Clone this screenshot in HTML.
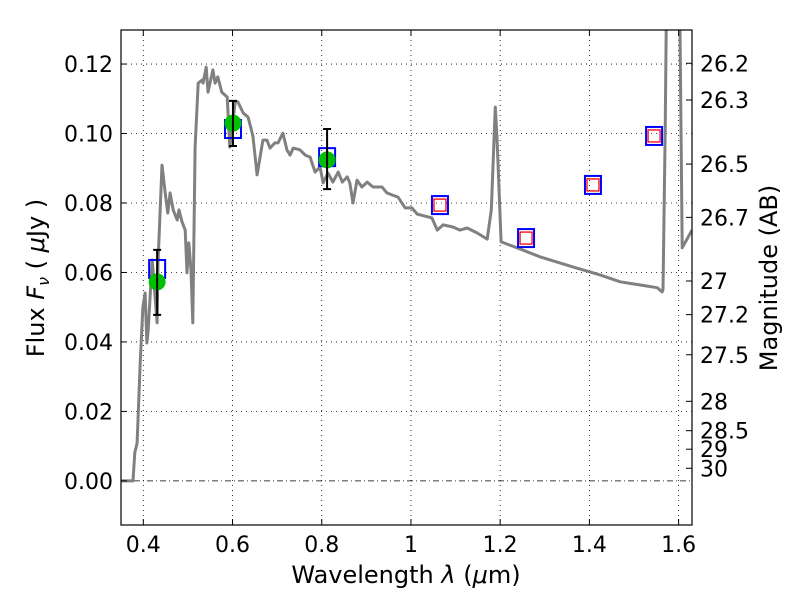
<!DOCTYPE html>
<html><head><meta charset="utf-8"><style>
html,body{margin:0;padding:0;background:#fff;}
svg text{font-family:"DejaVu Sans","Liberation Sans",sans-serif;}
</style></head><body>
<svg id="chart" width="800" height="600" xmlns="http://www.w3.org/2000/svg">
<rect width="800" height="600" fill="#fff"/>
<defs><clipPath id="clip"><rect x="121" y="30" width="571" height="495"/></clipPath></defs>
<g id="grid"></g>
<g id="plot" clip-path="url(#clip)"></g>
<rect x="121" y="30" width="571" height="495" fill="none" stroke="#000" stroke-width="1.2"/>
<g id="axes"></g>
<text x="406" y="583" font-size="24" text-anchor="middle">Wavelength  <tspan font-style="italic">λ</tspan> (<tspan font-style="italic">μ</tspan>m)</text>
<text transform="translate(44,278) rotate(-90)" font-size="24" text-anchor="middle">Flux  <tspan font-style="italic">F</tspan><tspan font-style="italic" font-size="16" dy="5">ν</tspan><tspan dy="-5">  ( </tspan><tspan font-style="italic">μ</tspan>Jy )</text>
<text transform="translate(777,278) rotate(-90)" font-size="24" text-anchor="middle">Magnitude (AB)</text>
</svg>
<script>
const specLam = [0.350,0.377,0.381,0.386,0.393,0.399,0.404,0.408,0.411,0.420,0.431,0.433,0.442,0.449,0.455,0.460,0.467,0.476,0.480,0.487,0.494,0.498,0.502,0.507,0.511,0.516,0.523,0.532,0.534,0.541,0.545,0.556,0.561,0.567,0.576,0.588,0.594,0.606,0.612,0.624,0.635,0.644,0.646,0.655,0.668,0.677,0.684,0.695,0.702,0.713,0.722,0.729,0.736,0.751,0.763,0.774,0.785,0.796,0.803,0.814,0.825,0.837,0.846,0.857,0.863,0.870,0.879,0.890,0.902,0.915,0.935,0.946,0.958,0.971,0.987,1.002,1.014,1.047,1.059,1.072,1.094,1.110,1.126,1.148,1.171,1.180,1.189,1.193,1.202,1.238,1.289,1.363,1.424,1.469,1.514,1.552,1.563,1.565,1.570,1.574,1.599,1.603,1.608,1.630];
const specFlux = [0.000,0.000,0.0081,0.0109,0.0340,0.0501,0.0541,0.0397,0.0435,0.0636,0.0455,0.0627,0.0909,0.0829,0.0771,0.0829,0.0780,0.0751,0.0780,0.0745,0.0722,0.0599,0.0685,0.0607,0.0455,0.0961,0.1145,0.1154,0.1145,0.1191,0.1119,0.1183,0.1145,0.1163,0.1119,0.1105,0.0961,0.1091,0.1091,0.1059,0.1047,0.1001,0.0990,0.0881,0.0981,0.0981,0.0958,0.0973,0.0973,0.1001,0.0953,0.0938,0.0958,0.0953,0.0938,0.0932,0.0889,0.0904,0.0858,0.0886,0.0860,0.0889,0.0860,0.0875,0.0858,0.0800,0.0866,0.0846,0.0860,0.0846,0.0846,0.0829,0.0823,0.0817,0.0786,0.0786,0.0768,0.0757,0.0722,0.0737,0.0731,0.0722,0.0728,0.0714,0.0696,0.0780,0.1076,0.0981,0.0688,0.0671,0.0645,0.0616,0.0593,0.0573,0.0564,0.0556,0.0544,0.0550,0.1010,0.153,0.153,0.1298,0.0671,0.0722];
const obsLam = [0.431,0.601,0.812];
const obsFlux = [0.0573,0.1030,0.0924];
const obsErrHi = [0.0665,0.1094,0.1013];
const obsErrLo = [0.0478,0.0964,0.0840];
const modelLam = [0.431,0.601,0.812,1.065,1.258,1.408,1.545];
const modelFlux = [0.0610,0.1013,0.0932,0.0794,0.0699,0.0852,0.0993];
const predLam = [1.065,1.258,1.408,1.545];
const predFlux = [0.0794,0.0699,0.0852,0.0993];
const xTicks = [0.4,0.6,0.8,1.0,1.2,1.4,1.6];
const xTickLabels = ["0.4","0.6","0.8","1","1.2","1.4","1.6"];
const yTicks = [0,0.02,0.04,0.06,0.08,0.10,0.12];
const yTickLabels = ["0.00","0.02","0.04","0.06","0.08","0.10","0.12"];
const magTicks = [26.2,26.3,26.5,26.7,27,27.2,27.5,28,28.5,29,30];
const magLabels = ["26.2","26.3","26.5","26.7","27","27.2","27.5","28","28.5","29","30"];

const NS="http://www.w3.org/2000/svg";
const X0=121,X1=692,Y0=30,Y1=525, xmin=0.35,xmax=1.63, ymin=-0.0127, ymax=0.1298;
const sx=v=>X0+(v-xmin)/(xmax-xmin)*(X1-X0);
const sy=v=>Y1-(v-ymin)/(ymax-ymin)*(Y1-Y0);
function mk(tag,attrs,parent){const e=document.createElementNS(NS,tag);for(const k in attrs)e.setAttribute(k,attrs[k]);parent.appendChild(e);return e;}
const grid=document.getElementById('grid'),plot=document.getElementById('plot'),axes=document.getElementById('axes');

xTicks.forEach((t,i)=>{
  const x=sx(t);
  const g=mk('line',{x1:x,x2:x,y1:Y0,y2:Y1,stroke:'#000','stroke-width':0.8,'stroke-dasharray':'1,4'},grid);
  
  
  mk('line',{x1:x,x2:x,y1:Y1,y2:Y1-6,stroke:'#000'},axes);
  mk('line',{x1:x,x2:x,y1:Y0,y2:Y0+6,stroke:'#000'},axes);
  const tx=mk('text',{x:x,y:Y1+27,'font-size':22,'text-anchor':'middle'},axes);
  tx.textContent=xTickLabels[i];
  
  
});
yTicks.forEach((t,i)=>{
  const y=sy(t);
  const g=mk('line',{x1:X0,x2:X1,y1:y,y2:y,stroke:'#000','stroke-width':0.8,'stroke-dasharray':t===0?'6,3,1,3':'1,4'},grid);
  
  
  mk('line',{x1:X0,x2:X0+6,y1:y,y2:y,stroke:'#000'},axes);
  const tx=mk('text',{x:X0-8,y:y+8,'font-size':22,'text-anchor':'end'},axes);
  tx.textContent=yTickLabels[i];
  
  
});
magTicks.forEach((m,i)=>{
  const y=sy(Math.pow(10,(23.9-m)/2.5));
  mk('line',{x1:X1,x2:X1-6,y1:y,y2:y,stroke:'#000'},axes);
  const tx=mk('text',{x:X1+8,y:y+8,'font-size':22},axes);
  tx.textContent=magLabels[i];
  
  
});

const pts=specLam.map((l,i)=>sx(l).toFixed(1)+','+sy(specFlux[i]).toFixed(1)).join(' ');
const sp=mk('polyline',{points:pts,fill:'none',stroke:'#808080','stroke-width':3,'stroke-linejoin':'round'},plot);



modelLam.forEach((l,i)=>{
  const x=sx(l),y=sy(modelFlux[i]);
  const r=mk('rect',{x:x-8,y:y-9,width:16,height:18,fill:'none',stroke:'#0000ff','stroke-width':2},plot);
  
  
});
predLam.forEach((l,i)=>{
  const x=sx(l),y=sy(predFlux[i]);
  const r=mk('rect',{x:x-6,y:y-6,width:12,height:12,fill:'none',stroke:'#ff0000','stroke-width':1.3},plot);
  
  
});
obsLam.forEach((l,i)=>{
  const x=sx(l);
  const c=mk('circle',{cx:x,cy:sy(obsFlux[i]),r:8.5,fill:'#00c000'},plot);
  
  
  const e=mk('path',{d:`M${x},${sy(obsErrHi[i])}V${sy(obsErrLo[i])}M${x-4},${sy(obsErrHi[i])}h8M${x-4},${sy(obsErrLo[i])}h8`,stroke:'#000','stroke-width':2,fill:'none'},plot);
  
  
});
</script>
</body></html>
